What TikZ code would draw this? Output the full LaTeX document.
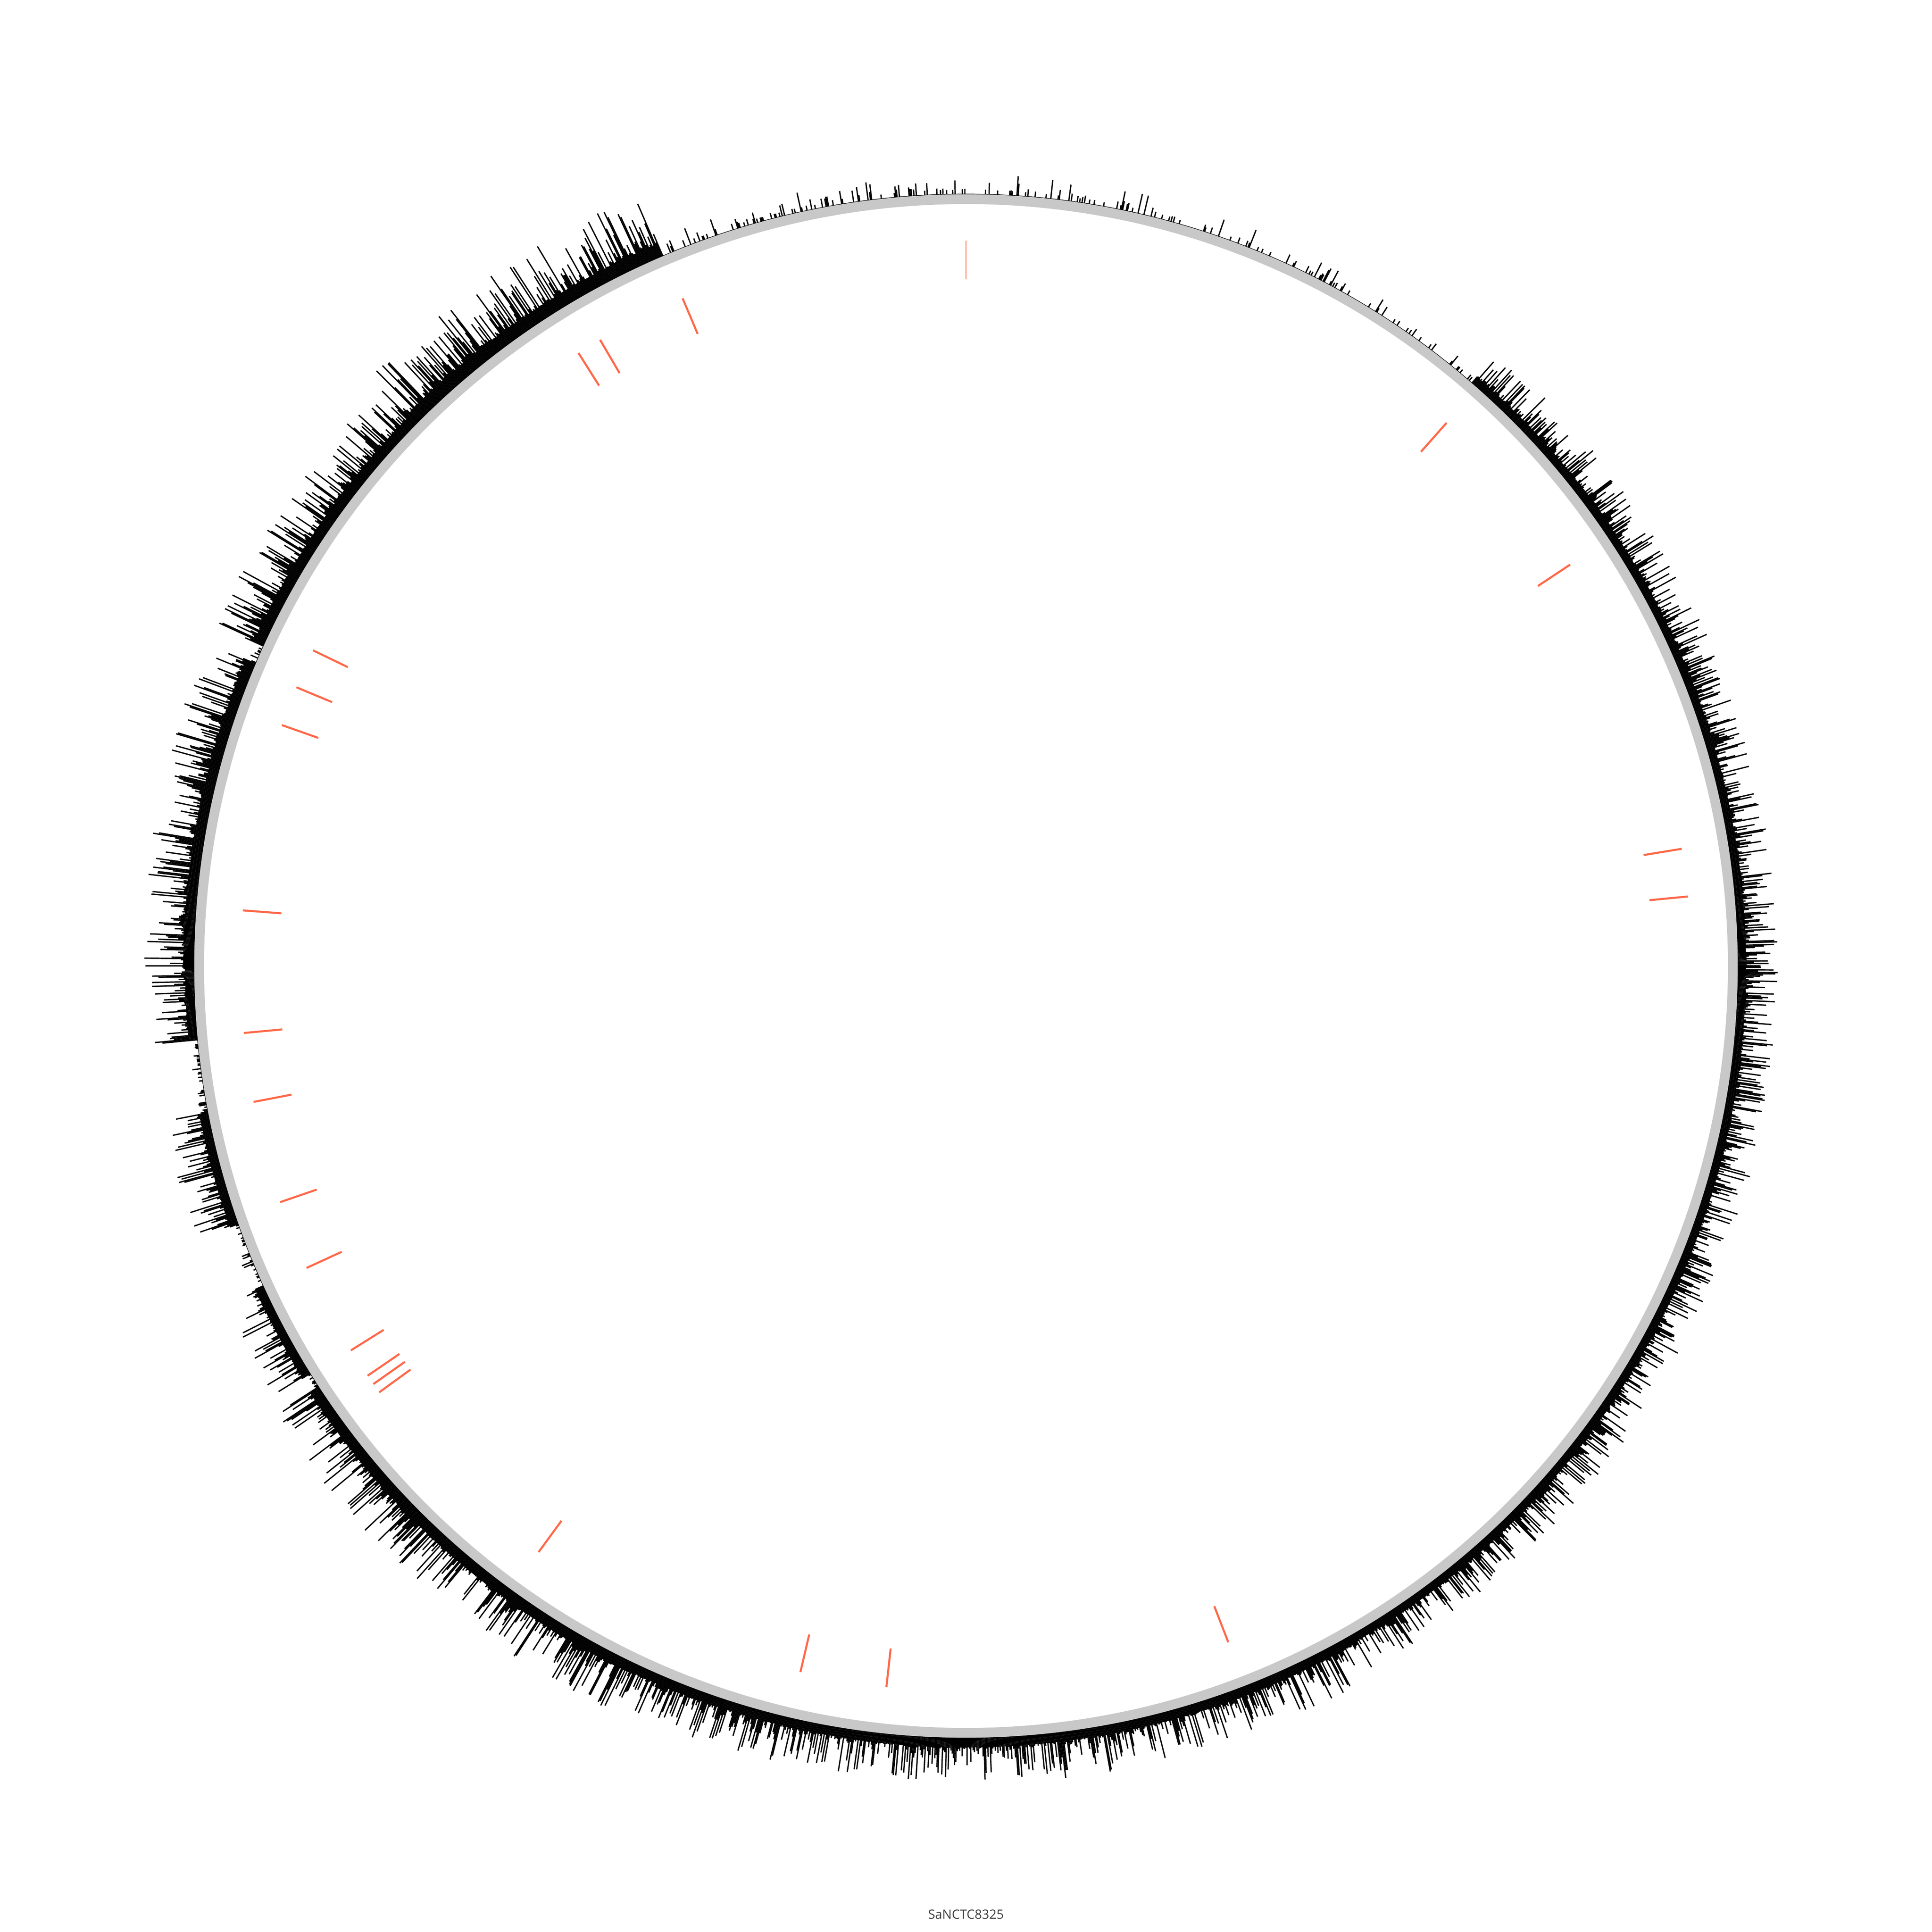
\documentclass[tikz,border=0pt]{standalone}
\usepackage{fontspec}
\setmainfont{Open Sans}
\definecolor{ringgray}{RGB}{200,200,200}
\definecolor{featred}{RGB}{255,104,72}
\definecolor{labgray}{RGB}{60,60,60}

\tikzstyle{ring} = [draw=ringgray, line width=0.25cm]
\tikzstyle{baseline} = [draw=black, line width=0.012cm]
\tikzstyle{covbar} = [draw=black, line width=0.032cm]
\tikzstyle{feat} = [draw=featred, line width=0.05cm]

\begin{document}
\begin{tikzpicture}
		\useasboundingbox (-24,-24) rectangle (24,24);
		%ring
		\draw[ring] (0,0) circle (19.055);
		%coverage bars
		\pgfmathsetseed{8325}
		\foreach \i in {0,...,3999}{
			\pgfmathsetmacro\a{\i*0.09}
			\pgfmathsetmacro\gap{(\a>155.55)*(\a<156.95)+(\a>185.55)*(\a<190.95)+(\a>199.55)*(\a<204.45)+(\a>211.85)*(\a<212.95)}
			\pgfmathsetmacro\env{(0.33*(\a<49.05)+0.17*(\a>49.05)*(\a<113.05)+0.55*(\a>113.05)*(\a<135.05)+0.44*(\a>135.05)*(\a<180.05)+0.37*(\a>180.05)*(\a<213.05)+0.44*(\a>213.05)*(\a<245.05)+0.39*(\a>245.05)*(\a<300.05)+0.33*(\a>300.05))*(1-0.7*\gap)}
			\pgfmathsetmacro\p{1-0.78*(\a>49.05)*(\a<113.05)-0.6*\gap}
			\pgfmathtruncatemacro\keep{rnd<\p}
			\ifnum\keep>0
				\pgfmathsetmacro\u{rnd}
				\pgfmathsetmacro\len{19.18+\env*(0.6+2.4*\u*\u*\u)}
				\draw[covbar] (\a:19.18) -- (\a:\len);
			\fi
		}
		\draw[baseline] (0,0) circle (19.18);
		
		%features
		\draw[feat, line width=0.022cm] (90:17.06) -- (90:18.02);
		\foreach \t in {113.0,120.3,122.3,48.5,33.6,154.2,157.4,160.6,9.3,5.5,175.6,185.3,190.8,199.0,204.6,212.0,214.4,215.2,216.0,233.9,256.8,263.7,291.2}
			\draw[feat] (\t:17.06) -- (\t:18.02);
		
		%label
		\node[font=\fontsize{9}{10}\selectfont, text=labgray, anchor=base] (genome) at (0,-23.67) {SaNCTC8325};
\end{tikzpicture}
\end{document}
